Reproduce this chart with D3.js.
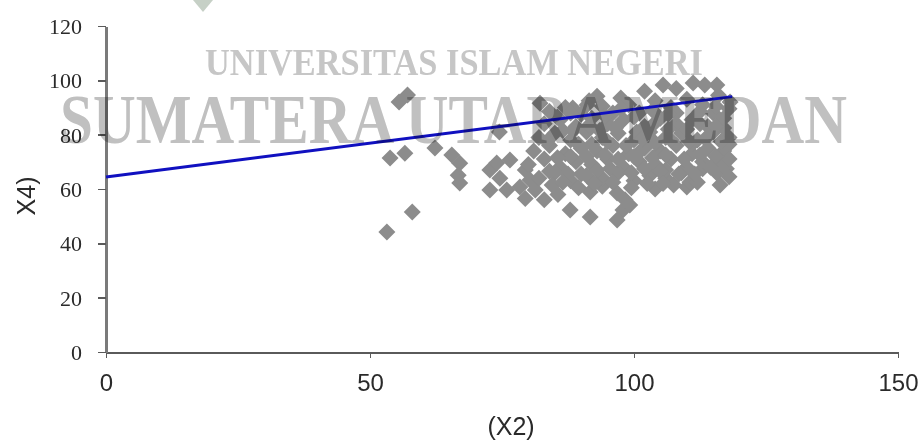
<!DOCTYPE html>
<html>
<head>
<meta charset="utf-8">
<script src="https://cdn.jsdelivr.net/npm/d3@7/dist/d3.min.js"></script>
<style>
  html, body { margin: 0; padding: 0; background: #ffffff; }
  svg { display: block; }
</style>
</head>
<body>
<svg id="chart" width="924" height="444"></svg>
<script>
// Scatter of X2 against X4 with a fitted trend line.
const x2 = [
  53.2, 58.0, 55.5, 57.1, 53.8, 56.6, 62.3, 65.5, 67.0, 66.7,
  67.0, 72.7, 74.0, 74.6, 72.7, 75.9, 78.4, 76.5, 79.4, 80.3,
  81.3, 74.5, 82.2, 88.4, 91.1, 93.0, 97.5, 105.5, 111.2, 115.7,
  118.2, 113.4, 102.0, 108.0, 87.9, 91.7, 91.7, 96.8, 97.9, 96.8,
  99.2, 98.3, 110.0, 110.6, 115.7, 116.3, 116.9, 117.5, 83.0, 85.6,
  79.4, 94.0, 104.0,
  84, 87, 90, 94, 99, 101, 104, 107, 110, 113, 116, 118, 96, 91.5,
  83, 86, 89, 92, 95, 98, 102, 105, 108, 111, 114, 117, 100, 93.5,
  82, 85, 88, 91, 94, 97, 100, 103, 106, 109, 112, 115, 118,
  81, 84, 87, 90, 93, 96, 99, 102, 105, 108, 111, 114, 117, 118,
  80, 83, 86, 89, 92, 95, 98, 101, 104, 107, 110, 113, 116, 118,
  82, 85, 88, 91, 94, 97, 100, 103, 106, 109, 112,
  84.5, 89.5, 99.5, 102.5, 107.5, 113, 95.5, 88, 104, 110,
  97, 92, 86.5, 101, 108, 115, 111, 106, 90, 117,
  85.5, 88, 94.5, 97.5, 103.5, 106.5, 112.5, 115.5,
  88.5, 91.5, 96.5, 100.5, 103.5, 106.5, 112.5, 115.5,
  83.5, 89.5, 95, 98.5, 101.5, 107, 110.5, 113.5, 116.5,
  85.5, 91, 94.5, 100, 103.5, 106, 109.5, 112.5, 115.5,
  84, 87.5, 93, 99.5, 102, 105, 108.5, 111.5, 114.5,
  86.5, 92.5, 96, 105.5, 118
];
const x4 = [
  44.2, 51.5, 92.0, 94.6, 71.4, 73.2, 75.1, 72.5, 69.5, 65.1,
  62.2, 67.0, 69.6, 64.0, 59.6, 59.6, 60.7, 70.7, 67.0, 63.3,
  59.6, 81.0, 91.6, 89.8, 90.9, 94.1, 93.5, 98.3, 99.0, 98.3,
  92.0, 98.3, 96.0, 97.0, 52.3, 49.7, 58.9, 58.5, 52.3, 48.6,
  54.1, 56.0, 60.7, 62.5, 65.9, 61.5, 71.8, 67.5, 56.0, 58.0,
  56.5, 61.0, 60.0,
  88.5, 90, 87.5, 90.5, 91, 88, 92.5, 90, 93, 91, 94.5, 89.5, 88, 92.5,
  84, 85.5, 83, 86, 84, 85.5, 83, 86, 84, 85.5, 83, 86, 86.5, 81.5,
  79, 80.5, 78, 81, 79, 80.5, 78, 81, 79, 80.5, 78, 81, 79,
  74, 76, 73, 75, 74, 76, 73, 75, 74, 76, 73, 75, 74, 76.5,
  69, 71, 68, 70, 69, 71, 68, 70, 69, 71, 68, 70, 69, 71,
  64, 66, 63, 65, 64, 66, 63, 65, 64, 66, 62.5,
  61.5, 60.5, 60.5, 62, 61.5, 67.5, 67.5, 72, 77, 82,
  71, 76.5, 81.5, 73.5, 88, 88, 76.5, 67, 65.5, 82.5,
  86.5, 88, 87, 89.5, 89, 87.5, 88.5, 90.5,
  81.5, 83.5, 82.5, 81, 83.5, 82, 84, 83,
  77.5, 76.5, 77.5, 76, 78.5, 78, 77.5, 78.5, 77.5,
  71.5, 72, 72.5, 72, 71.5, 72.5, 71, 72.5, 72,
  66.5, 65.5, 67, 66, 67.5, 66.5, 65.5, 65.5, 68,
  62.5, 62, 62.5, 62, 64.5
];

// Fitted line endpoints (X2, X4)
const trendX2 = [0, 118.6];
const trendX4 = [64.4, 94.0];

const xTicks = [0, 50, 100, 150];
const yTicks = [0, 20, 40, 60, 80, 100, 120];

const xTitle = "(X2)";
const yTitle = "X4)";
const markLine1 = "UNIVERSITAS ISLAM NEGERI";
const markLine2 = "SUMATERA UTARA MEDAN";

const svg = d3.select("#chart");

const x = d3.scaleLinear().domain([0, 150]).range([106, 898]);
const y = d3.scaleLinear().domain([0, 120]).range([352, 26]);

// X axis
const gx = svg.append("g")
  .attr("transform", `translate(0,${y(0)})`)
  .call(d3.axisBottom(x).tickValues(xTicks).tickSize(6).tickSizeOuter(0).tickFormat(d3.format("d")));
gx.select(".domain").attr("stroke", "#5a5a5a").attr("stroke-width", 2);
gx.selectAll(".tick line").attr("stroke", "#5a5a5a").attr("stroke-width", 1.5);
gx.selectAll(".tick text")
  .attr("y", 39).attr("dy", 0)
  .attr("fill", "#2a2a2a")
  .style("font-family", "'Liberation Sans', Arial, sans-serif")
  .style("font-size", "24px");

// Y axis
const gy = svg.append("g")
  .attr("transform", `translate(${x(0)},0)`)
  .call(d3.axisLeft(y).tickValues(yTicks).tickSize(8).tickSizeOuter(0).tickPadding(16).tickFormat(d3.format("d")));
gy.select(".domain").attr("stroke", "#7a7a7a").attr("stroke-width", 2.5);
gy.selectAll(".tick line").attr("stroke", "#5a5a5a").attr("stroke-width", 1.5);
gy.selectAll(".tick text")
  .attr("fill", "#2a2a2a")
  .attr("dy", "0.34em")
  .style("font-family", "'Liberation Serif', 'Times New Roman', serif")
  .style("font-size", "22px");
svg.selectAll(".domain, .tick line").attr("shape-rendering", "crispEdges");

// Axis titles
svg.append("text")
  .attr("x", 511).attr("y", 435)
  .attr("text-anchor", "middle")
  .attr("fill", "#2a2a2a")
  .style("font-family", "'Liberation Sans', Arial, sans-serif")
  .style("font-size", "25px")
  .text(xTitle);

svg.append("text")
  .attr("transform", "translate(35,196) rotate(-90)")
  .attr("text-anchor", "middle")
  .attr("fill", "#2a2a2a")
  .style("font-family", "'Liberation Sans', Arial, sans-serif")
  .style("font-size", "25px")
  .text(yTitle);

// Diamond markers
const pts = x2.map((v, i) => ({ a: v, b: x4[i] }));
const r = 8.5;
svg.append("g")
  .selectAll("path")
  .data(pts)
  .join("path")
  .attr("transform", d => `translate(${x(d.a)},${y(d.b)})`)
  .attr("d", `M0,${-r}L${r},0L0,${r}L${-r},0Z`)
  .attr("fill", "#8c8c8c");

// Trend line
svg.append("path")
  .datum(trendX2.map((v, i) => [v, trendX4[i]]))
  .attr("fill", "none")
  .attr("stroke", "#1010c0")
  .attr("stroke-width", 3)
  .attr("d", d3.line().x(d => x(d[0])).y(d => y(d[1])));

// Watermark
const wm = svg.append("g").style("mix-blend-mode", "multiply");
wm.append("path")
  .attr("d", "M193,0L213,0L203,12Z")
  .attr("fill", "#c6d0c6");
wm.append("text")
  .attr("x", 205).attr("y", 75)
  .attr("textLength", 498).attr("lengthAdjust", "spacingAndGlyphs")
  .attr("fill", "#c6c6c6")
  .style("font-family", "'Liberation Serif', 'Times New Roman', serif")
  .style("font-weight", "bold")
  .style("font-size", "37px")
  .text(markLine1);
wm.append("text")
  .attr("x", 60).attr("y", 143)
  .attr("textLength", 787).attr("lengthAdjust", "spacingAndGlyphs")
  .attr("fill", "#c0c0c0")
  .style("font-family", "'Liberation Serif', 'Times New Roman', serif")
  .style("font-weight", "bold")
  .style("font-size", "69px")
  .text(markLine2);
</script>
</body>
</html>
